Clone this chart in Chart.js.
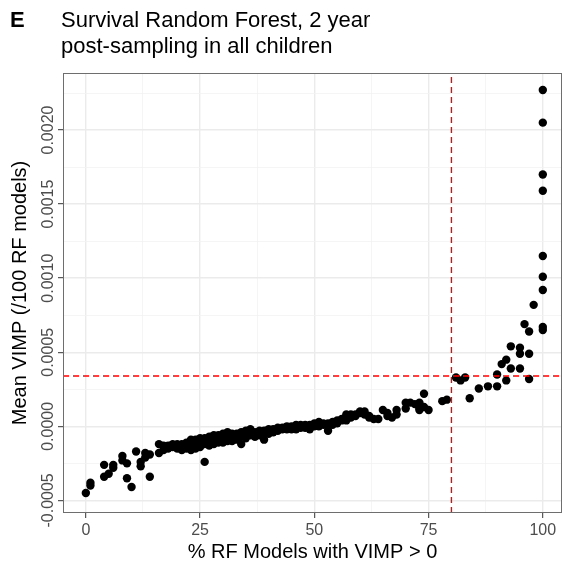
<!doctype html>
<html lang="en">
<head>
    <meta charset="utf-8">
    <script src="https://cdn.jsdelivr.net/npm/chart.js"></script>
    <style>
        body { margin: 0; background: #fff; }
    </style>
</head>
<body>
<canvas id="myChart" width="564" height="565"></canvas>
<script>
    // % of RF models with VIMP > 0, and the mean VIMP for each variable
    const pct = [
        0, 1, 1, 4, 4, 5, 6, 6, 8, 8, 9, 9, 10, 11, 12, 12, 13, 13, 14, 14,
        16, 16, 17, 17, 18, 18, 19, 19, 20, 20, 21, 21, 21, 22, 22, 22,
        23, 23, 23, 23, 24, 24, 24, 24, 25, 25, 25, 25, 26, 26, 26, 26,
        27, 27, 27, 27, 28, 28, 28, 28, 29, 29, 29, 29, 30, 30, 30, 30,
        31, 31, 31, 31, 32, 32, 32, 32, 33, 33, 33, 34, 34, 34, 34,
        35, 35, 35, 35, 36, 36, 36, 37, 37, 37, 38, 38, 38, 39, 39, 39,
        40, 40, 40, 41, 41, 41, 42, 42, 42, 43, 43, 44, 44, 44, 45, 45, 45,
        46, 46, 46, 47, 47, 47, 48, 48, 48, 49, 49, 49, 50, 50, 50, 51, 51, 51,
        52, 52, 53, 53, 53, 54, 54, 54, 55, 55, 56, 56, 57, 57, 57, 58, 58, 59, 59,
        60, 60, 61, 61, 62, 62, 63, 64, 65, 66, 66, 67, 68, 68, 70, 70, 71, 72,
        73, 73, 73, 74, 74, 75, 78, 79, 81, 82, 83, 84, 86, 88, 90, 90, 91, 92, 92, 93, 93,
        95, 95, 95, 96, 97, 97, 97, 98,
        100, 100, 100, 100, 100, 100, 100, 100, 100
    ];
    const vimp = [
        -0.00045, -0.0004, -0.00038, -0.00026, -0.00034, -0.00032, -0.00028, -0.00026, -0.0002, -0.00023,
        -0.00025, -0.00035, -0.00041, -0.00017, -0.00027, -0.00024, -0.00021, -0.00018, -0.00034, -0.00019,
        -0.00012, -0.00018, -0.00016, -0.00013, -0.00013, -0.00015, -0.00012, -0.00014, -0.00012, -0.00015,
        -0.00014, -0.00012, -0.00016, -0.00011, -0.00013, -0.00015,
        -0.0001, -0.00009, -0.00016, -0.00012, -0.00011, -0.00013, -0.00009, -0.00015, -0.0001, -0.00012,
        -0.00008, -0.00014, -0.00024, -0.0001, -0.00012, -0.00008,
        -0.00009, -0.00011, -0.00007, -0.00013, -0.00009, -0.0001, -0.00006, -0.00012, -0.00008, -0.0001,
        -0.00006, -0.00011, -0.00007, -0.00009, -0.00005, -0.00011,
        -0.00007, -0.00009, -0.00004, -0.0001, -0.00006, -0.00008, -0.0001, -0.00005, -0.00005, -0.00007,
        -0.00009, -0.00005, -0.00007, -0.00012, -0.00004,
        -0.00005, -0.00006, -0.00003, -0.00008, -0.00004, -0.00006, -0.00002, -0.00004, -0.00005, -0.00007,
        -0.00003, -0.00005, -0.00006, -0.00004, -0.00009, -0.00003,
        -0.00003, -0.00002, -0.00005, -0.00003, -0.00002, -0.00004, -0.00002, -0.00001, -0.00003, -0.00002,
        -0.00001, -0.00002, 0, -0.00001, -0.00001, 0, -0.00002,
        -0.00001, 0.00001, -0.00002, 0, -0.00001, 0.00001, 0, 0.00001, -0.00001, 0.00001,
        -0.00002, 0, 0, 0.00002, 0.00001, 0.00002, 0.00003, 0,
        0.00001, 0.00002, 0, -0.00003, 0.00002, 0.00002, 0.00003, 0.00001, 0.00002, 0.00004,
        0.00004, 0.00005, 0.00004, 0.00008, 0.00006, 0.00006, 0.00008, 0.00008, 0.00007,
        0.00009, 0.0001, 0.0001, 0.00008, 0.00006, 0.00007, 0.00005, 0.00005, 0.00011, 0.00007,
        0.00009, 0.00006, 0.00011, 0.00008, 0.00012, 0.00016, 0.00016, 0.00015,
        0.00012, 0.00016, 0.00011, 0.00022, 0.00013, 0.00011, 0.00017, 0.00018, 0.00033, 0.00031,
        0.00033, 0.00019, 0.000255, 0.00027, 0.00027, 0.00035, 0.00042, 0.00045, 0.00031, 0.00039, 0.00054,
        0.00053, 0.00049, 0.00039, 0.00069, 0.00049, 0.00032, 0.00064, 0.00082,
        0.00227, 0.00205, 0.0017, 0.00159, 0.00115, 0.00101, 0.00092, 0.00067, 0.00065
    ];

    // cut-offs (red dashed lines)
    const cutPct = 80;
    const cutVimp = 0.00034;

    const xMajor = [0, 25, 50, 75, 100];
    const xMinor = [12.5, 37.5, 62.5, 87.5];
    const yMajor = [-0.0005, 0, 0.0005, 0.001, 0.0015, 0.002];
    const yMinor = [-0.00025, 0.00025, 0.00075, 0.00125, 0.00175, 0.00225];
    const yLabels = ['-0.0005', '0.0000', '0.0005', '0.0010', '0.0015', '0.0020'];

    const xMin = -5, xMax = 104.2;
    const yMin = -0.000585, yMax = 0.002385;

    const FONT = '"Liberation Sans", Arial, sans-serif';
    Chart.defaults.font.family = FONT;

    function isMajor(list, v) {
        return list.some(m => Math.abs(m - v) < 1e-9);
    }

    const points = pct.map((p, i) => ({ x: p, y: vimp[i] }));

    // panel border, rotated y labels and the heading
    const panelExtras = {
        id: 'panelExtras',
        afterDraw(chart) {
            const ctx = chart.ctx;
            const a = chart.chartArea;
            const ys = chart.scales.y;
            ctx.save();
            ctx.strokeStyle = '#6e6e6e';
            ctx.lineWidth = 1;
            ctx.strokeRect(a.left + 0.5, a.top + 0.5, a.right - a.left - 1, a.bottom - a.top - 1);

            ctx.fillStyle = '#4d4d4d';
            ctx.font = '16px ' + FONT;
            ctx.textAlign = 'center';
            ctx.textBaseline = 'alphabetic';
            yMajor.forEach((v, i) => {
                ctx.save();
                ctx.translate(53, ys.getPixelForValue(v));
                ctx.rotate(-Math.PI / 2);
                ctx.fillText(yLabels[i], 0, 0);
                ctx.restore();
            });

            ctx.fillStyle = '#000';
            ctx.textAlign = 'left';
            ctx.font = 'bold 22px ' + FONT;
            ctx.fillText('E', 10, 27);
            ctx.font = '22px ' + FONT;
            ctx.fillText('Survival Random Forest, 2 year', 61, 27);
            ctx.fillText('post-sampling in all children', 61, 53);
            ctx.restore();
        }
    };

    const config = {
        type: 'scatter',
        data: {
            datasets: [
                {
                    data: [{ x: cutPct, y: yMin }, { x: cutPct, y: yMax }],
                    showLine: true,
                    borderColor: '#ff0000',
                    borderWidth: 1.4,
                    borderDash: [6, 4],
                    pointRadius: 0,
                    order: 0
                },
                {
                    data: [{ x: xMin, y: cutVimp }, { x: xMax, y: cutVimp }],
                    showLine: true,
                    borderColor: '#ff0000',
                    borderWidth: 1.4,
                    borderDash: [6, 4],
                    pointRadius: 0,
                    order: 0
                },
                {
                    data: points,
                    backgroundColor: '#000',
                    borderWidth: 0,
                    pointRadius: 4.2,
                    order: 1
                }
            ]
        },
        options: {
            responsive: false,
            animation: false,
            events: [],
            layout: { autoPadding: false, padding: { top: 73, right: 2, left: 0, bottom: 0 } },
            plugins: { legend: { display: false }, tooltip: { enabled: false } },
            scales: {
                x: {
                    type: 'linear',
                    min: xMin,
                    max: xMax,
                    afterBuildTicks: s => {
                        s.ticks = xMajor.concat(xMinor).sort((p, q) => p - q).map(v => ({ value: v }));
                    },
                    afterFit: s => {
                        s.height = 52;
                        s.paddingLeft = 0;
                        s.paddingRight = 0;
                    },
                    ticks: {
                        autoSkip: false,
                        maxRotation: 0,
                        color: '#4d4d4d',
                        font: { size: 16 },
                        padding: 3,
                        callback: v => isMajor(xMajor, v) ? String(v) : ''
                    },
                    grid: {
                        color: c => isMajor(xMajor, c.tick.value) ? '#ebebeb' : '#f3f3f3',
                        lineWidth: c => isMajor(xMajor, c.tick.value) ? 1.4 : 0.8,
                        tickColor: c => isMajor(xMajor, c.tick.value) ? '#333333' : 'rgba(0,0,0,0)',
                        tickLength: 5,
                        tickWidth: 1
                    },
                    border: { display: false },
                    title: {
                        display: true,
                        text: '% RF Models with VIMP > 0',
                        color: '#000',
                        font: { size: 20 },
                        padding: { top: 0, bottom: 1 }
                    }
                },
                y: {
                    type: 'linear',
                    min: yMin,
                    max: yMax,
                    afterBuildTicks: s => {
                        s.ticks = yMajor.concat(yMinor).sort((p, q) => p - q).map(v => ({ value: v }));
                    },
                    afterFit: s => {
                        s.width = 63;
                        s.paddingTop = 0;
                        s.paddingBottom = 0;
                    },
                    ticks: {
                        autoSkip: false,
                        callback: () => ''
                    },
                    grid: {
                        color: c => isMajor(yMajor, c.tick.value) ? '#ebebeb' : '#f3f3f3',
                        lineWidth: c => isMajor(yMajor, c.tick.value) ? 1.4 : 0.8,
                        tickColor: c => isMajor(yMajor, c.tick.value) ? '#333333' : 'rgba(0,0,0,0)',
                        tickLength: 5,
                        tickWidth: 1
                    },
                    border: { display: false },
                    title: {
                        display: true,
                        text: 'Mean VIMP (/100 RF models)',
                        color: '#000',
                        font: { size: 20 },
                        padding: { top: 8, bottom: 0 }
                    }
                }
            }
        },
        plugins: [panelExtras]
    };

    const myChart = new Chart(document.getElementById('myChart'), config);
</script>
</body>
</html>
